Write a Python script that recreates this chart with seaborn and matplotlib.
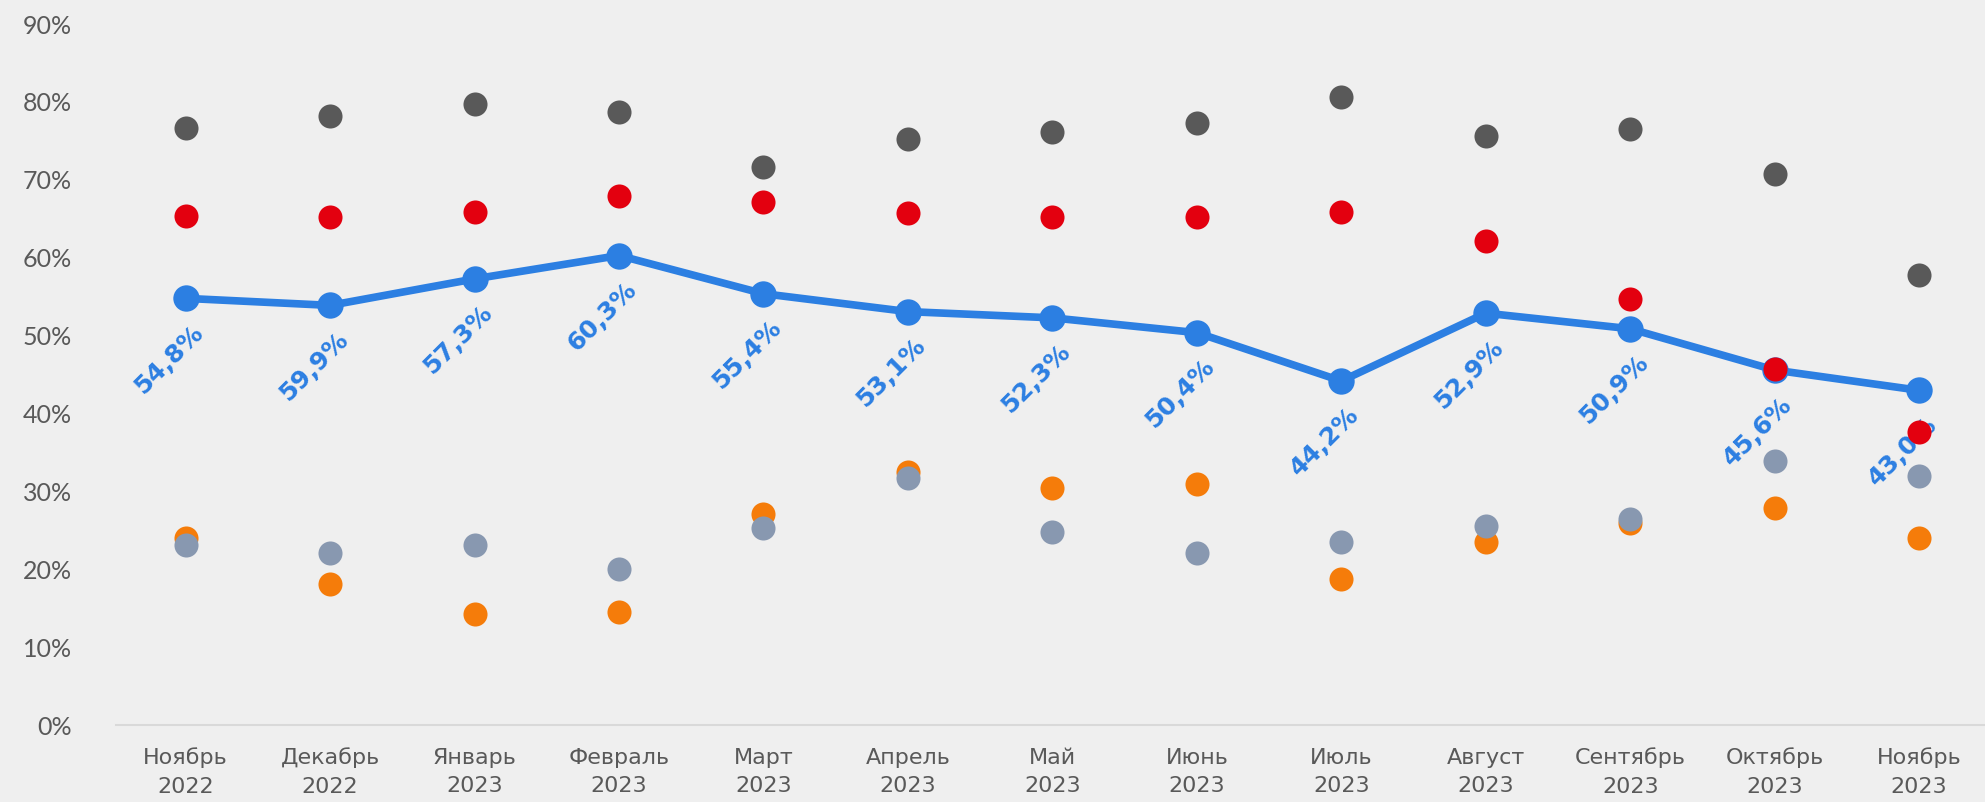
import numpy as np
import pandas as pd
import seaborn as sns
import matplotlib.pyplot as plt

# months on the x axis
months = ["Ноябрь\n2022", "Декабрь\n2022", "Январь\n2023", "Февраль\n2023",
          "Март\n2023", "Апрель\n2023", "Май\n2023", "Июнь\n2023",
          "Июль\n2023", "Август\n2023", "Сентябрь\n2023", "Октябрь\n2023",
          "Ноябрь\n2023"]

# series values, %
main_line = [54.8, 53.9, 57.3, 60.3, 55.4, 53.1, 52.3, 50.4, 44.2, 52.9, 50.9, 45.6, 43.0]
main_labels = ["54,8%", "59,9%", "57,3%", "60,3%", "55,4%", "53,1%", "52,3%",
               "50,4%", "44,2%", "52,9%", "50,9%", "45,6%", "43,0%"]
dark_dots = [76.6, 78.2, 79.7, 78.7, 71.6, 75.3, 76.1, 77.3, 80.7, 75.6, 76.5, 70.8, 57.8]
red_dots = [65.4, 65.3, 65.9, 67.9, 67.2, 65.7, 65.3, 65.3, 65.9, 62.2, 54.7, 45.8, 37.7]
grey_dots = [23.1, 22.1, 23.2, 20.1, 25.3, 31.8, 24.8, 22.1, 23.5, 25.6, 26.5, 33.9, 32.0]
orange_dots = [24.0, 18.2, 14.3, 14.6, 27.1, 32.5, 30.5, 31.0, 18.8, 23.5, 26.0, 27.9, 24.0]

BG = "#EFEFEF"
TXT = "#595959"
BLUE = "#2C7FE2"

df = pd.DataFrame({
    "x": np.arange(len(months)),
    "main": main_line,
    "dark": dark_dots,
    "red": red_dots,
    "grey": grey_dots,
    "orange": orange_dots,
})

sns.set_style("white")
plt.rcParams["font.family"] = ["Lato", "DejaVu Sans"]

fig = plt.figure(figsize=(19.85, 8.02), dpi=100, facecolor=BG)
ax = fig.add_axes([0.0586, 0.0955, 0.9414, 0.8745])
ax.set_facecolor(BG)

dot = dict(s=300, linewidth=0, legend=False, ax=ax)
sns.scatterplot(data=df, x="x", y="orange", color="#F57C0A", zorder=2, **dot)
sns.scatterplot(data=df, x="x", y="grey", color="#8898B0", zorder=3, **dot)
sns.lineplot(data=df, x="x", y="main", color=BLUE, linewidth=5.5, marker="o",
             markersize=19, markeredgewidth=0, zorder=4, ax=ax, legend=False)
sns.scatterplot(data=df, x="x", y="red", color="#E3000F", zorder=5, **dot)
sns.scatterplot(data=df, x="x", y="dark", color="#595959", zorder=5, **dot)

# rotated value labels under the blue line
for xi, yi, lab in zip(df["x"], df["main"], main_labels):
    ax.annotate(lab, (xi, yi), xytext=(-12, -44), textcoords="offset points",
                ha="center", va="center", rotation=45, color=BLUE,
                fontsize=18, fontweight="bold", family="DejaVu Sans")

ax.set_xlim(-0.48, len(months) - 0.544)
ax.set_ylim(0, 90)
ax.set_yticks(np.arange(0, 91, 10))
ax.set_yticklabels([f"{v}%" for v in range(0, 91, 10)], fontsize=18, color=TXT)
ax.set_xticks(df["x"])
ax.set_xticklabels(months, fontsize=16, color=TXT, linespacing=1.55,
                   family=["Liberation Sans Narrow", "DejaVu Sans"])
ax.tick_params(axis="y", length=0, pad=32)
ax.tick_params(axis="x", length=0, pad=16)
ax.set_xlabel("")
ax.set_ylabel("")

for side in ["top", "right", "left"]:
    ax.spines[side].set_visible(False)
ax.spines["bottom"].set_color("#D9D9D9")
ax.spines["bottom"].set_linewidth(1.5)

fig.savefig("out.png", dpi=100, facecolor=BG)
plt.close(fig)
